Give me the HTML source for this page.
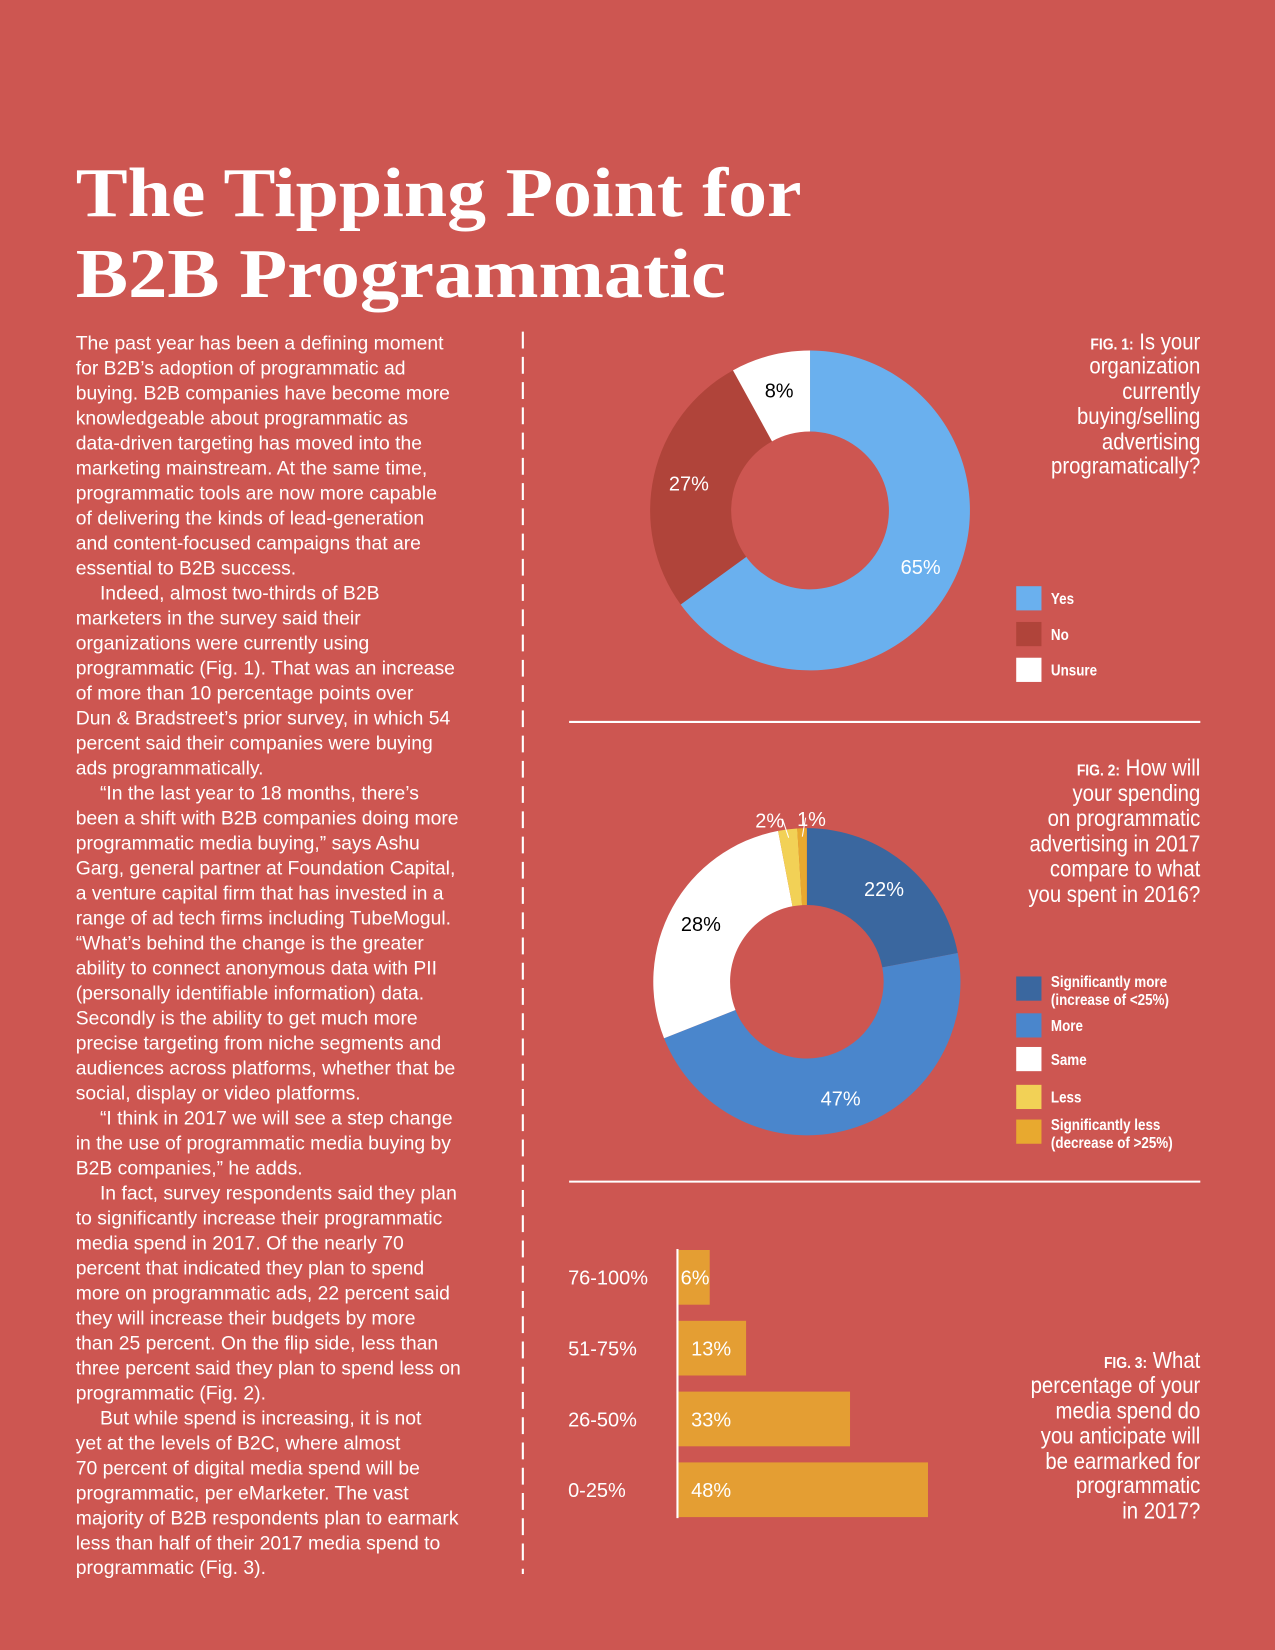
<!DOCTYPE html>
<html><head><meta charset="utf-8"><style>
html,body{margin:0;padding:0;background:#cd5651;}
svg{display:block;}
.body{font-family:"Liberation Sans",sans-serif;font-size:18.4px;fill:#fff;}
.q{font-family:"Liberation Sans Narrow","Liberation Sans",sans-serif;font-size:22px;fill:#fff;}
.fig{font-weight:bold;font-size:15px;}
.lab{font-family:"Liberation Sans",sans-serif;font-size:19px;}
.leg{font-family:"Liberation Sans Narrow","Liberation Sans",sans-serif;font-size:15px;font-weight:bold;fill:#fff;}
</style></head><body>
<svg id="page" width="1275" height="1650" viewBox="0 0 1212 1568" xmlns="http://www.w3.org/2000/svg">
<rect width="1212" height="1568" fill="#cd5651"/>
<g font-family="'Liberation Serif',serif" font-weight="bold" font-size="66" fill="#fff">
<text x="72" y="205" textLength="690" lengthAdjust="spacingAndGlyphs">The Tipping Point for</text>
<text x="72" y="282" textLength="618" lengthAdjust="spacingAndGlyphs">B2B Programmatic</text>
</g>
<g id="bodytext" class="body"></g>
<line x1="497" y1="315" x2="497" y2="1496" stroke="#fff" stroke-width="2" stroke-dasharray="16 8"/>
<line x1="541" y1="686" x2="1141" y2="686" stroke="#fff" stroke-width="2"/>
<line x1="541" y1="1123" x2="1141" y2="1123" stroke="#fff" stroke-width="2"/>

<g transform="translate(1141,0) scale(0.88,1) translate(-1141,0)">
<g class="q" text-anchor="end">
<text x="1141" y="332"><tspan class="fig">FIG. 1:</tspan> Is your</text>
<text x="1141" y="355">organization</text>
<text x="1141" y="379">currently</text>
<text x="1141" y="403">buying/selling</text>
<text x="1141" y="427">advertising</text>
<text x="1141" y="450">programatically?</text>
</g>
<g class="q" text-anchor="end">
<text x="1141" y="737"><tspan class="fig">FIG. 2:</tspan> How will</text>
<text x="1141" y="761">your spending</text>
<text x="1141" y="785">on programmatic</text>
<text x="1141" y="809">advertising in 2017</text>
<text x="1141" y="833">compare to what</text>
<text x="1141" y="857">you spent in 2016?</text>
</g>
<g class="q" text-anchor="end">
<text x="1141" y="1300"><tspan class="fig">FIG. 3:</tspan> What</text>
<text x="1141" y="1324">percentage of your</text>
<text x="1141" y="1348">media spend do</text>
<text x="1141" y="1372">you anticipate will</text>
<text x="1141" y="1396">be earmarked for</text>
<text x="1141" y="1419">programmatic</text>
<text x="1141" y="1443">in 2017?</text>
</g>
</g>
<g id="fig1"></g>
<g id="fig2"></g>
<g id="fig3"></g>
</svg>
<script>
const NS="http://www.w3.org/2000/svg";
const bodyLines=["The past year has been a defining moment","for B2B\u2019s adoption of programmatic ad","buying. B2B companies have become more","knowledgeable about programmatic as","data-driven targeting has moved into the","marketing mainstream. At the same time,","programmatic tools are now more capable","of delivering the kinds of lead-generation","and content-focused campaigns that are","essential to B2B success.","\tIndeed, almost two-thirds of B2B","marketers in the survey said their","organizations were currently using","programmatic (Fig. 1). That was an increase","of more than 10 percentage points over","Dun & Bradstreet\u2019s prior survey, in which 54","percent said their companies were buying","ads programmatically.","\t\u201cIn the last year to 18 months, there\u2019s","been a shift with B2B companies doing more","programmatic media buying,\u201d says Ashu","Garg, general partner at Foundation Capital,","a venture capital firm that has invested in a","range of ad tech firms including TubeMogul.","\u201cWhat\u2019s behind the change is the greater","ability to connect anonymous data with PII","(personally identifiable information) data.","Secondly is the ability to get much more","precise targeting from niche segments and","audiences across platforms, whether that be","social, display or video platforms.","\t\u201cI think in 2017 we will see a step change","in the use of programmatic media buying by","B2B companies,\u201d he adds.","\tIn fact, survey respondents said they plan","to significantly increase their programmatic","media spend in 2017. Of the nearly 70","percent that indicated they plan to spend","more on programmatic ads, 22 percent said","they will increase their budgets by more","than 25 percent. On the flip side, less than","three percent said they plan to spend less on","programmatic (Fig. 2).","\tBut while spend is increasing, it is not","yet at the levels of B2C, where almost","70 percent of digital media spend will be","programmatic, per eMarketer. The vast","majority of B2B respondents plan to earmark","less than half of their 2017 media spend to","programmatic (Fig. 3)."];

const fig1Cats=["Yes","No","Unsure"];
const fig1Vals=[65,27,8];
const fig1Colors=["#6ab0ee","#b0443a","#ffffff"];
const fig1Labels=["65%","27%","8%"];

const fig2Cats=["Significantly more|(increase of <25%)","More","Same","Less","Significantly less|(decrease of >25%)"];
const fig2Vals=[22,47,28,2,1];
const fig2Colors=["#3a679f","#4a86cc","#ffffff","#f2d156","#e8a92f"];
const fig2Labels=["22%","47%","28%","2%","1%"];

const fig3Cats=["76-100%","51-75%","26-50%","0-25%"];
const fig3Vals=[6,13,33,48];
const fig3Labels=["6%","13%","33%","48%"];

function mk(tag,attrs,parent){const e=document.createElementNS(NS,tag);for(const k in attrs)e.setAttribute(k,attrs[k]);parent.appendChild(e);return e;}

const bt=document.getElementById('bodytext');
bodyLines.forEach((l,i)=>{const ind=l.startsWith("\t");const t=mk('text',{x:ind?95:72,y:332+i*23.76},bt);


t.textContent=ind?l.slice(1):l;});

function arcPath(cx,cy,R,r,a0,a1){const p=(rad,a)=>[cx+rad*Math.sin(a),cy-rad*Math.cos(a)];const lg=(a1-a0)>Math.PI?1:0;
const [x0,y0]=p(R,a0),[x1,y1]=p(R,a1),[x2,y2]=p(r,a1),[x3,y3]=p(r,a0);
return `M${x0} ${y0}A${R} ${R} 0 ${lg} 1 ${x1} ${y1}L${x2} ${y2}A${r} ${r} 0 ${lg} 0 ${x3} ${y3}Z`;}

function donut(g,cx,cy,R,r,vals,colors,labels,labelR,labelColors,outside){
 const tot=vals.reduce((a,b)=>a+b,0);let a=0;
 vals.forEach((v,i)=>{const a1=a+v/tot*2*Math.PI;
  const s=mk('path',{d:arcPath(cx,cy,R,r,a,a1),fill:colors[i]},g);
  
  
  const m=(a+a1)/2;
  if(outside&&outside[i]!=null){const o=outside[i];
   const bx=cx+(R-8)*Math.sin(m),by=cy-(R-8)*Math.cos(m);
   const ln=mk('line',{x1:bx,y1:by,x2:bx+o*0.35,y2:by-18,stroke:'#fff','stroke-width':1},g);
   
   
   const t=mk('text',{x:cx+R*Math.sin(m)+o,y:cy-(R+8)*Math.cos(m)+6,'text-anchor':'middle',class:'lab',fill:'#fff'},g);
   
   
   t.textContent=labels[i];
  }else{
   const t=mk('text',{x:cx+labelR*Math.sin(m),y:cy-labelR*Math.cos(m)+7,'text-anchor':'middle',class:'lab',fill:labelColors[i]},g);
   
   
   t.textContent=labels[i];}
  a=a1;});
}
function legend(g,x,ys,cats,colors){cats.forEach((c,i)=>{
 const r=mk('rect',{x:x,y:ys[i],width:24,height:23,fill:colors[i]},g);
 
 
 const parts=c.split('|');
 parts.forEach((p,j)=>{const t=mk('text',{x:x+33,y:ys[i]+(parts.length>1?10+j*17:17),class:'leg',transform:`translate(${x+33},0) scale(0.85,1) translate(${-(x+33)},0)`},g);
 
 
 t.textContent=p;});});}

const g1=document.getElementById('fig1');
donut(g1,770,485,152,75,fig1Vals,fig1Colors,fig1Labels,118,["#fff","#fff","#000"],null);
legend(g1,966,[557,591,625],fig1Cats,["#6ab0ee","#b0443a","#ffffff"]);

const g2=document.getElementById('fig2');
donut(g2,767,933,146,73,fig2Vals,fig2Colors,fig2Labels,115,["#fff","#fff","#000","#fff","#fff"],[null,null,null,-17,9]);
legend(g2,966,[928,963,995,1031,1064],fig2Cats,fig2Colors);

const g3=document.getElementById('fig3');
const x0=645,scale=4.94,bandTop=1188,band=67.3,barH=52;
fig3Vals.forEach((v,i)=>{const y=bandTop+i*band;
 const b=mk('rect',{x:x0,y:y,width:v*scale,height:barH,fill:'#e49e33'},g3);
 
 
 const c=mk('text',{x:540,y:y+barH/2+7,class:'lab',fill:'#fff'},g3);
 
 
 c.textContent=fig3Cats[i];
 const l=mk('text',{x:v<10?x0+2:x0+12,y:y+barH/2+7,class:'lab',fill:'#fff'},g3);
 
 
 l.textContent=fig3Labels[i];});
const ax=mk('line',{x1:x0-1,y1:bandTop-1,x2:x0-1,y2:bandTop+3*band+barH+1,stroke:'#fff','stroke-width':2},g3);


</script>
</body></html>
